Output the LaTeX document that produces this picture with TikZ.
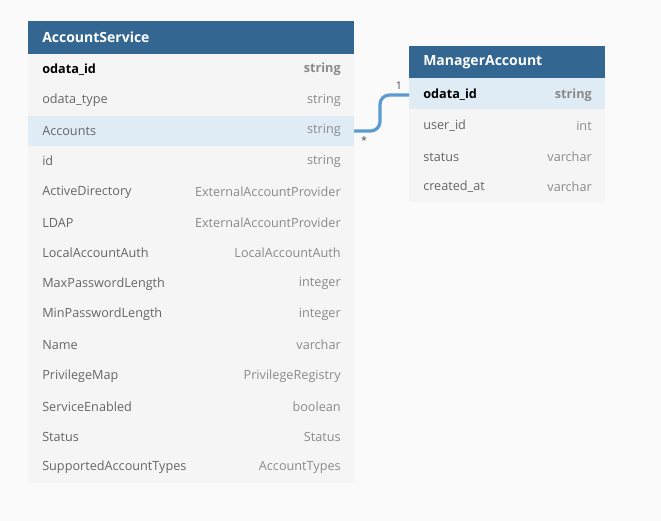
\documentclass[tikz,border=0pt]{standalone}
\usepackage{fontspec}
\setmainfont{Open Sans}
\definecolor{hdr}{HTML}{336791}
\definecolor{rowbg}{HTML}{F5F5F6}
\definecolor{hl}{HTML}{DFECF5}
\definecolor{pg}{HTML}{FAFAFB}
\definecolor{txt}{HTML}{666666}
\definecolor{typ}{HTML}{8A8A8A}
\definecolor{lnk}{HTML}{5B9BD0}
\begin{document}
\begin{tikzpicture}[x=0.75pt,y=-0.75pt,every node/.style={inner sep=0pt},
  htext/.style={text=white,font=\fontsize{10.5}{12}\selectfont\bfseries,anchor=west},
  ftext/.style={text=txt,font=\fontsize{9.5}{11}\selectfont,anchor=west},
  ttext/.style={text=typ,font=\fontsize{9.5}{11}\selectfont,anchor=east},
  ktext/.style={text=black,font=\fontsize{9.5}{11}\selectfont\bfseries,anchor=west},
  kttext/.style={text=typ,font=\fontsize{9.5}{11}\selectfont\bfseries,anchor=east},
  card/.style={text=black!70,font=\fontsize{8}{9}\selectfont}]
\fill[pg] (0,0) rectangle (661,521);
\useasboundingbox (0,0) rectangle (661,521);
% table 1
\fill[rowbg] (28,54) rectangle (354,483);
\fill[hl] (28,116) rectangle (354,146);
\fill[hdr] (28,21) rectangle (354,54);
\node[htext] (t1) at (42,37.5) {AccountService};
\def\rh{30.64}
\foreach \n/\f/\t/\k [count=\i from 0] in {
 a/odata\_id/string/1, b/odata\_type/string/0, c/Accounts/string/0, d/id/string/0,
 e/ActiveDirectory/ExternalAccountProvider/0, f/LDAP/ExternalAccountProvider/0,
 g/LocalAccountAuth/LocalAccountAuth/0, h/MaxPasswordLength/integer/0,
 i/MinPasswordLength/integer/0, j/Name/varchar/0, k/PrivilegeMap/PrivilegeRegistry/0,
 l/ServiceEnabled/boolean/0, m/Status/Status/0, n/SupportedAccountTypes/AccountTypes/0}{
  \pgfmathsetmacro\yy{54+\rh*\i+\rh/2}
  \ifnum\k=1
    \node[ktext] (f\n) at (42,\yy) {\f};
    \node[kttext] (t\n) at (341,\yy) {\t};
  \else
    \node[ftext] (f\n) at (42,\yy) {\f};
    \node[ttext] (t\n) at (341,\yy) {\t};
  \fi
}
% table 2
\fill[rowbg] (409,78) rectangle (605,202);
\fill[hl] (409,78) rectangle (605,109);
\fill[hdr] (409,46) rectangle (605,78);
\node[htext] (t2) at (423,62) {ManagerAccount};
\node[ktext] (m1) at (423,95) {odata\_id};
\node[kttext] (m1t) at (592,95) {string};
\node[ftext] (m2) at (423,126) {user\_id};
\node[ttext] (m2t) at (592,126) {int};
\node[ftext] (m3) at (423,157) {status};
\node[ttext] (m3t) at (592,157) {varchar};
\node[ftext] (m4) at (423,187) {created\_at};
\node[ttext] (m4t) at (592,187) {varchar};
% connector
\coordinate (ca) at (354,131);
\coordinate (cb) at (409,95);
\draw[lnk,line width=2.4pt,rounded corners=7pt] (ca) -- (380,131) -- (380,95) -- (cb);
\node[card] at (364,140) {*};
\node[card] at (399,86) {1};
\end{tikzpicture}
\end{document}
